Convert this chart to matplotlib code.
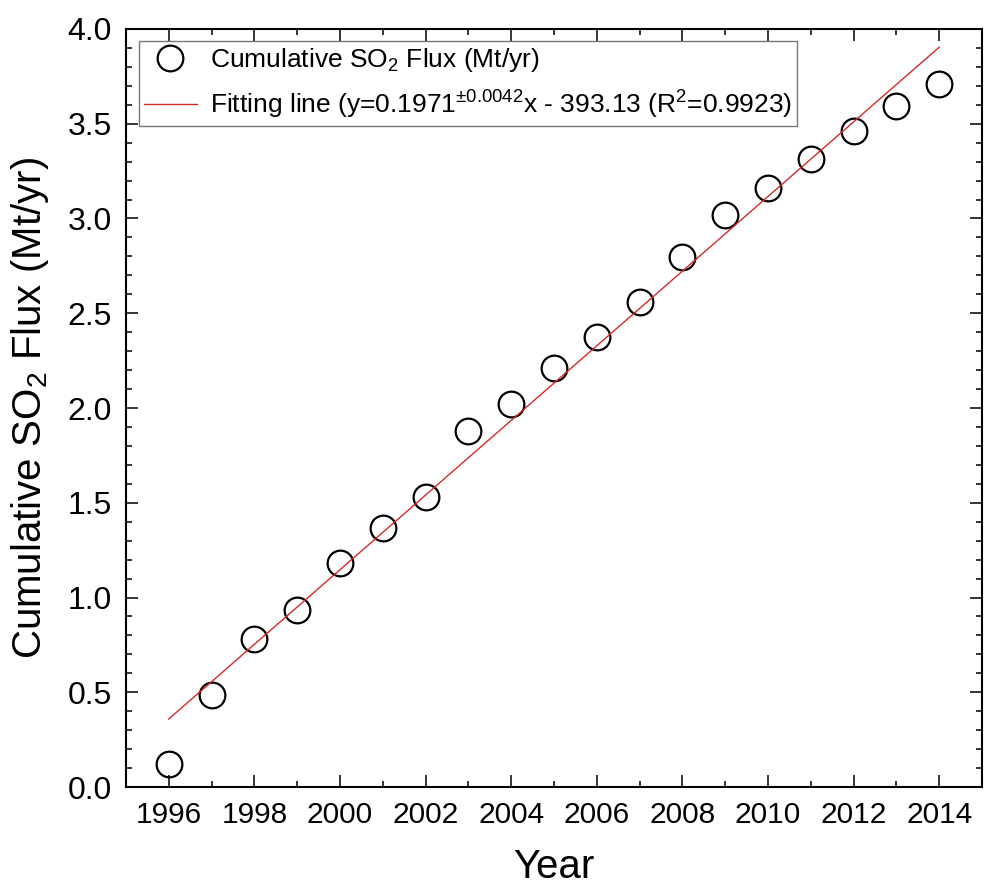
import numpy as np
import matplotlib
matplotlib.use('Agg')
import matplotlib.pyplot as plt
from matplotlib.ticker import MultipleLocator, FormatStrFormatter

plt.rcParams['font.family'] = ['Liberation Sans', 'DejaVu Sans']
plt.rcParams['mathtext.fontset'] = 'custom'
plt.rcParams['mathtext.rm'] = 'Liberation Sans'
plt.rcParams['mathtext.default'] = 'regular'

# data
years = np.arange(1996, 2015)
so2_flux = [0.12, 0.484, 0.779, 0.934, 1.184, 1.368, 1.529, 1.880, 2.021, 2.209,
            2.373, 2.558, 2.798, 3.018, 3.163, 3.312, 3.463, 3.595, 3.710]
point_label = 'Cumulative SO$_2$ Flux (Mt/yr)'
fit_label = 'Fitting line (y=0.1971$^{\\pm0.0042}$x - 393.13 (R$^2$=0.9923)'

# linear fit
slope, intercept = np.polyfit(years, so2_flux, 1)
fit = slope * years + intercept

fig = plt.figure(figsize=(9.84, 8.89), dpi=100)
ax = fig.add_axes([0.128, 0.1147, 0.87, 0.8527])

ax.plot(years, so2_flux, 'o', ms=18.5, mfc='none', mec='black', mew=1.6,
        label=point_label)
ax.plot(years, fit, '-', color='#d42a2a', lw=1.0, label=fit_label)

ax.set_xlim(1995, 2015)
ax.set_ylim(0, 4.0)
ax.xaxis.set_major_locator(MultipleLocator(2))
ax.xaxis.set_minor_locator(MultipleLocator(1))
ax.yaxis.set_major_locator(MultipleLocator(0.5))
ax.yaxis.set_minor_locator(MultipleLocator(0.1))
ax.yaxis.set_major_formatter(FormatStrFormatter('%.1f'))

ax.tick_params(which='both', direction='in', top=True, right=True, width=1.1)
ax.tick_params(which='major', length=8.5)
ax.tick_params(which='minor', length=4.5)
ax.tick_params(axis='x', labelsize=21.5, pad=10)
ax.tick_params(axis='y', labelsize=23, pad=10)
for s in ax.spines.values():
    s.set_linewidth(1.5)

ax.set_xlabel('Year', fontsize=29, labelpad=14)
ax.set_ylabel('Cumulative SO$_2$ Flux (Mt/yr)', fontsize=29, labelpad=12)

leg = ax.legend(loc='upper left', fontsize=19, frameon=True, fancybox=False,
                edgecolor='#555555', borderpad=0.2, handlelength=2.0,
                handletextpad=0.5, labelspacing=0.55, borderaxespad=0,
                bbox_to_anchor=(0.015, 0.984))
leg.get_frame().set_linewidth(1.0)

fig.savefig('out.png', dpi=100)
